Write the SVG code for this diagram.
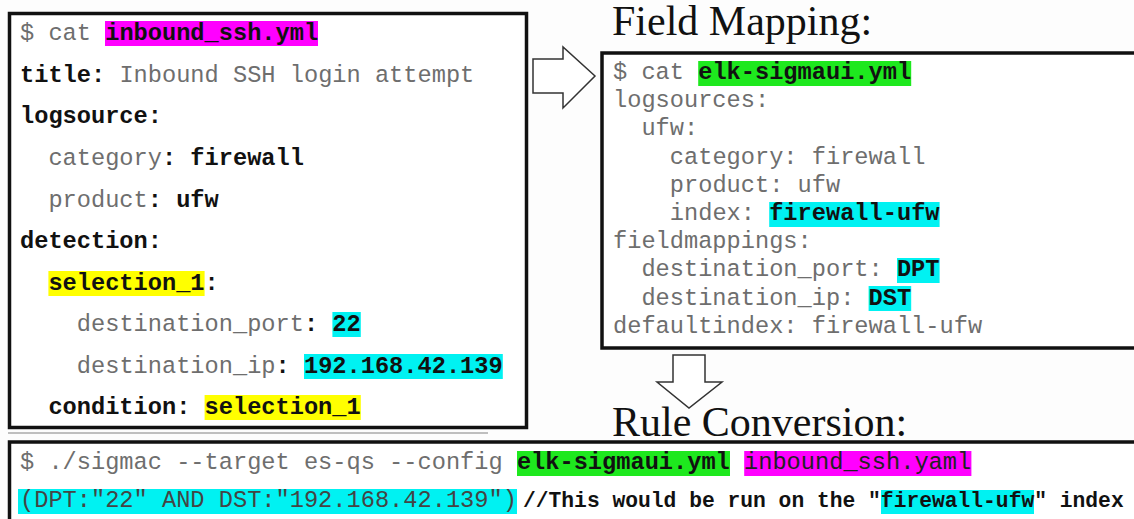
<svg xmlns="http://www.w3.org/2000/svg" width="1134" height="519" viewBox="0 0 1134 519">
<style>
.m{font-family:"Liberation Mono","Courier New",monospace;font-size:23.67px;fill:#6e6e6e}
.b{font-weight:bold;fill:#111}
.c{font-family:"Liberation Mono","Courier New",monospace;font-size:21.3px;font-weight:bold;fill:#111}
.t{font-family:"Liberation Serif","Times New Roman",serif;font-size:42px;fill:#111}
.box{fill:#fff;stroke:#111;stroke-width:3.5}
.arr{fill:#fff;stroke:#333;stroke-width:1.5}
.mg{fill:#ff00ff}.yl{fill:#ffff00}.cy{fill:#00f2f2}.gr{fill:#1ee81e}
</style>
<rect width="1134" height="519" fill="#fdfdfd"/>
<g id="rule-file">
<rect class="box" x="9.5" y="13.5" width="517" height="414"/>
<rect class="mg" x="105" y="21" width="213" height="25"/>
<rect class="yl" x="48.4" y="271" width="156.2" height="25"/>
<rect class="cy" x="332.4" y="312" width="28.4" height="25"/>
<rect class="cy" x="304" y="354" width="198.8" height="25"/>
<rect class="yl" x="204.6" y="395" width="156.2" height="25"/>
<text class="m" x="20" y="40">$ cat <tspan class="b">inbound_ssh.yml</tspan></text>
<text class="m" x="20" y="82"><tspan class="b">title:</tspan> Inbound SSH login attempt</text>
<text class="m b" x="20" y="123">logsource:</text>
<text class="m" x="48.4" y="165">category<tspan class="b">: firewall</tspan></text>
<text class="m" x="48.4" y="207">product<tspan class="b">: ufw</tspan></text>
<text class="m b" x="20" y="248">detection:</text>
<text class="m b" x="48.4" y="290">selection_1:</text>
<text class="m" x="76.8" y="331">destination_port<tspan class="b">: 22</tspan></text>
<text class="m" x="76.8" y="373">destination_ip<tspan class="b">: 192.168.42.139</tspan></text>
<text class="m b" x="48.4" y="414">condition: selection_1</text>
</g>
<line x1="8" y1="433" x2="488" y2="433" stroke="#aaa" stroke-width="1.5"/>
<g id="field-mapping">
<text class="t" x="612" y="35">Field Mapping:</text>
<rect class="box" x="602" y="53" width="540" height="295"/>
<rect class="gr" x="698.2" y="61" width="213" height="25"/>
<rect class="cy" x="769.2" y="202" width="170.4" height="25"/>
<rect class="cy" x="897" y="258" width="42.6" height="25"/>
<rect class="cy" x="868.6" y="286" width="42.6" height="25"/>
<text class="m" x="613" y="79">$ cat <tspan class="b">elk-sigmaui.yml</tspan></text>
<text class="m" x="613" y="107">logsources:</text>
<text class="m" x="641.4" y="135">ufw:</text>
<text class="m" x="669.8" y="163.6">category: firewall</text>
<text class="m" x="669.8" y="191.8">product: ufw</text>
<text class="m" x="669.8" y="220">index: <tspan class="b">firewall-ufw</tspan></text>
<text class="m" x="613" y="248">fieldmappings:</text>
<text class="m" x="641.4" y="276">destination_port: <tspan class="b">DPT</tspan></text>
<text class="m" x="641.4" y="304.6">destination_ip: <tspan class="b">DST</tspan></text>
<text class="m" x="613" y="333">defaultindex: firewall-ufw</text>
</g>
<g id="rule-conversion">
<text class="t" x="612" y="436">Rule Conversion:</text>
<rect class="box" x="9.5" y="442" width="1135" height="100"/>
<rect class="gr" x="517" y="451" width="213" height="25"/>
<rect class="mg" x="744.2" y="451" width="227.2" height="25"/>
<rect class="cy" x="18" y="489" width="499" height="25"/>
<rect class="cy" x="881" y="490" width="153" height="24"/>
<text class="m" x="20" y="469">$ ./sigmac --target es-qs --config <tspan class="b">elk-sigmaui.yml</tspan> <tspan fill="#222" style="fill:#222">inbound_ssh.yaml</tspan></text>
<text class="m" x="20" y="507" style="fill:#444">(DPT:"22" AND DST:"192.168.42.139")</text>
<text class="c" x="523" y="507">//This would be run on the "firewall-ufw" index</text>
</g>
<g id="connectors">
<polygon class="arr" points="533,59 563,59 563,47 595,76 563,108 563,93 533,93"/>
<polygon class="arr" points="673,355 705,355 705,382 722,382 689,408 657,382 673,382"/>
</g>
</svg>
